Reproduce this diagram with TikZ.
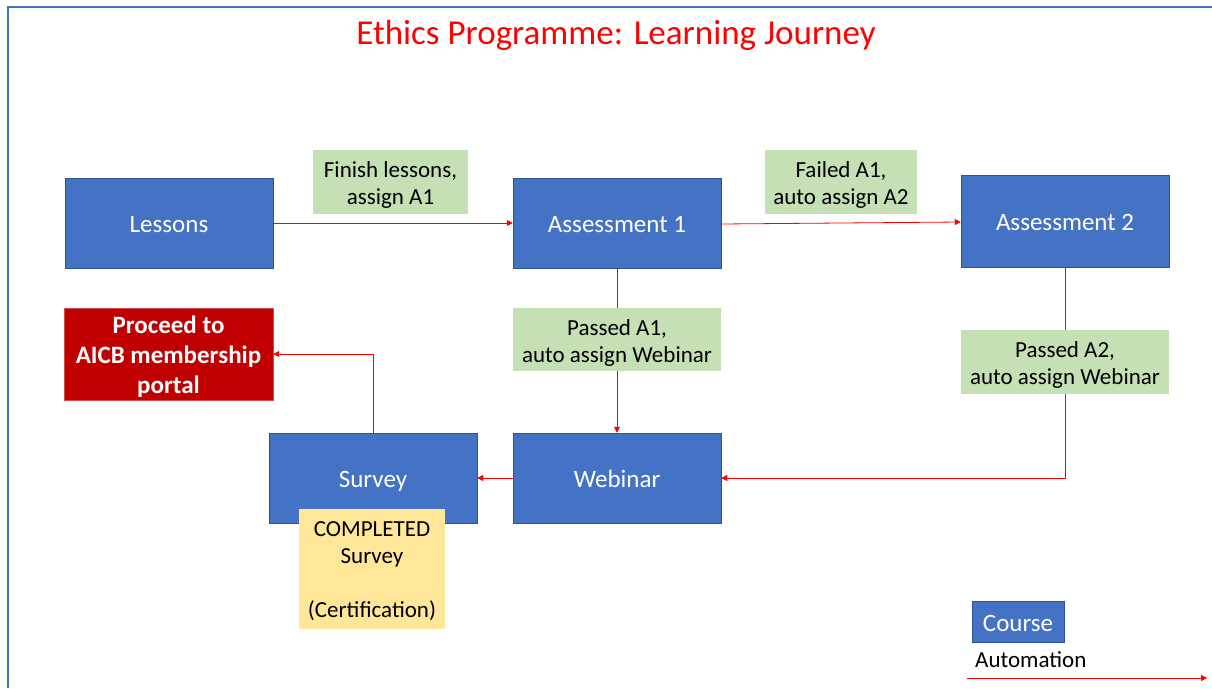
\documentclass[tikz,border=0pt]{standalone}
\usepackage{fontspec}
\setmainfont{Carlito}
\usetikzlibrary{arrows.meta}
\definecolor{cblue}{HTML}{4472C4}
\definecolor{cedge}{HTML}{2F528F}
\definecolor{cgreen}{HTML}{C5E0B4}
\definecolor{cred}{HTML}{C00000}
\definecolor{cyellow}{HTML}{FFE699}
\definecolor{carrow}{HTML}{FF0000}
\tikzset{
  course/.style={draw=cedge, line width=0.5pt, fill=cblue, text=white, minimum width=208pt, minimum height=90pt, inner sep=0pt, text height=19pt, text depth=0pt, font=\fontsize{25}{30}\selectfont},
  autolabel/.style={fill=cgreen, inner sep=0pt},
  labeltext/.style={text=black, inner sep=0pt, align=center, font=\fontsize{23}{27}\selectfont},
  flow/.style={draw=carrow, line width=0.8pt, -{Triangle[length=6pt,width=6pt]}},
}
\begin{document}
\begin{tikzpicture}[x=1pt,y=-1pt]
\useasboundingbox (0,0) rectangle (1212,688);
\draw[cblue, line width=2pt] (8,688) -- (8,7) -- (1212,7);
\node[text=carrow, font=\fontsize{35}{40}\selectfont] (title) at (616,35) {Ethics Programme: Learning Journey};

\node[course] (lessons) at (169,223) {Lessons};
\node[course] (a1) at (617,223) {Assessment 1};
\node[course, minimum height=92pt] (a2) at (1065,221) {Assessment 2};
\node[course] (webinar) at (617,478) {Webinar};
\node[course] (survey) at (373,478) {Survey};
\node[fill=cred, draw=cred!70, minimum width=209pt, minimum height=92pt, inner sep=0pt] (portal) at (168.5,354) {};
\node[text=white, inner sep=0pt, align=center, font=\bfseries\fontsize{25}{30}\selectfont] (portaltext) at ([yshift=-3pt]portal.center) {Proceed to\\AICB membership\\portal};
\node[fill=cyellow, minimum width=146pt, minimum height=120pt, inner sep=0pt] (completed) at (372,569) {};
\node[anchor=north, align=center, font=\fontsize{23}{27}\selectfont, inner sep=0pt] (completedtext) at (372,521) {COMPLETED\\Survey\\[27pt](Certification)};

\draw[flow] (lessons.east) -- (a1.west);
\draw[flow] ([yshift=-1pt]a1.east) -- ([yshift=-1pt]a2.west);
\draw[flow] (a1.south) -- (webinar.north);
\draw[flow] (a2.south) |- (webinar.east);
\draw[flow] (webinar.west) -- (survey.east);
\draw[flow] (survey.north) |- (portal.east);

\node[autolabel, minimum width=155pt, minimum height=64pt] (l1) at (390.5,182) {};
\node[labeltext] (l1text) at ([yshift=-3pt]l1.center) {Finish lessons,\\assign A1};
\node[autolabel, minimum width=152pt, minimum height=64pt] (l2) at (841,182) {};
\node[labeltext] (l2text) at ([yshift=-3pt]l2.center) {Failed A1,\\auto assign A2};
\node[autolabel, minimum width=208pt, minimum height=63pt] (l3) at (617,339.5) {};
\node[labeltext] (l3text) at ([yshift=-3pt]l3.center) {Passed A1,\\auto assign Webinar};
\node[autolabel, minimum width=208pt, minimum height=64pt] (l4) at (1065,362) {};
\node[labeltext] (l4text) at ([yshift=-3pt]l4.center) {Passed A2,\\auto assign Webinar};

\node[course, minimum width=92pt, minimum height=41pt] (legcourse) at (1018,621.5) {Course};
\node[anchor=west, inner sep=0pt, font=\fontsize{23}{27}\selectfont] (legauto) at (975,660) {Automation};
\coordinate (legA) at (967,678);
\coordinate (legB) at (1207,678);
\draw[flow] (legA) -- (legB);
\end{tikzpicture}
\end{document}
